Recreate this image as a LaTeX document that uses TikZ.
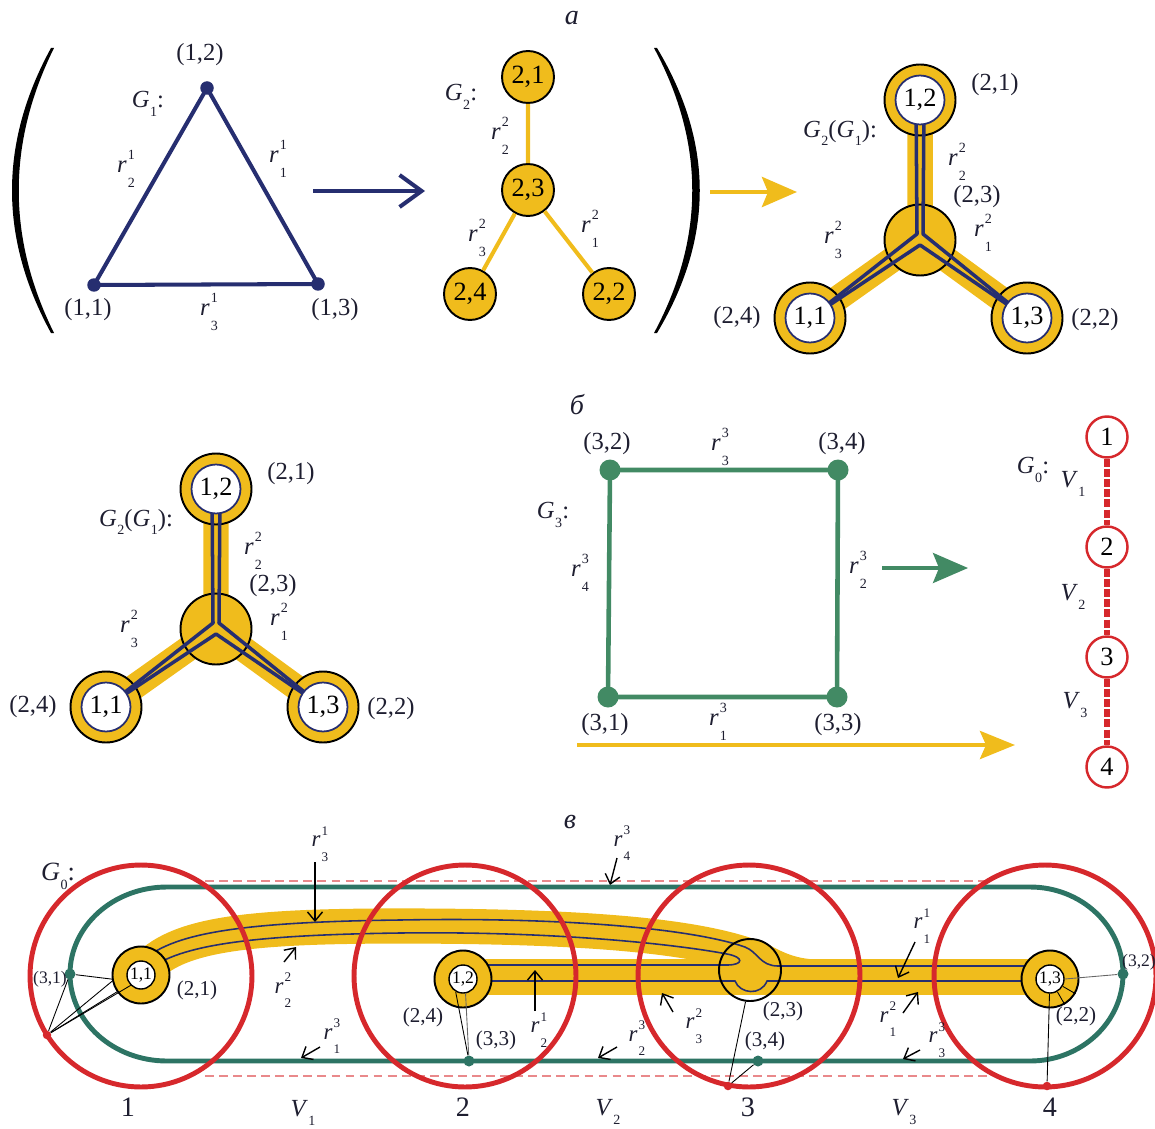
\documentclass[tikz,border=0pt]{standalone}
\usepackage{fontspec}
\setmainfont{Liberation Serif}
\usetikzlibrary{arrows.meta}

\definecolor{azul}{RGB}{38,46,112}
\definecolor{oro}{RGB}{240,188,28}
\definecolor{verde}{RGB}{66,138,100}
\definecolor{verdeosc}{RGB}{45,116,100}
\definecolor{rojo}{RGB}{214,40,44}
\definecolor{tinta}{RGB}{30,30,48}

\newcommand\idxfont{\fontsize{8}{8}\selectfont}
\newcommand\rr[2]{\textit{r}\kern.6pt\makebox[0pt][l]{\raisebox{0.5em}{\idxfont #1}}\raisebox{-0.62em}{\idxfont #2}}
\newcommand\Gi[1]{\textit{G}\kern.3pt\raisebox{-0.35em}{\idxfont #1}}
\newcommand\Vi[1]{\textit{V}\kern.3pt\raisebox{-0.35em}{\idxfont #1}}

\tikzset{
  lab/.style={font=\fontsize{14}{16}\selectfont, text=tinta, inner sep=1pt},
  labB/.style={font=\fontsize{12}{14}\selectfont, text=tinta, inner sep=1pt},
  labC/.style={font=\fontsize{10}{12}\selectfont, text=tinta, inner sep=0pt},
  rB/.style={font=\fontsize{13}{14}\selectfont\renewcommand\idxfont{\fontsize{7.5}{8}\selectfont}, text=tinta, inner sep=1pt},
  titulo/.style={font=\fontsize{16}{18}\selectfont\itshape, text=tinta},
  punto/.style={circle, fill=#1, inner sep=0pt},
  nodoY/.style={circle, draw=black, line width=1.1pt, fill=oro, minimum size=1.04cm, inner sep=0pt, font=\fontsize{15}{17}\selectfont},
  banda/.style={oro, line width=14.5pt},
  hub/.style={circle, draw=black, line width=1.1pt, fill=oro, minimum size=1.42cm},
  anillo/.style={circle, draw=black, line width=1.1pt, fill=oro, minimum size=1.42cm},
  nucleo/.style={circle, draw=azul, line width=1pt, fill=white, minimum size=0.98cm, inner sep=0pt, font=\fontsize{15}{17}\selectfont},
  hilo/.style={azul, line width=2pt, line join=round},
  anilloB/.style={circle, draw=black, line width=1.1pt, fill=oro, minimum size=1.14cm},
  nucleoB/.style={circle, draw=black, line width=0.8pt, fill=white, minimum size=0.56cm, inner sep=0pt, font=\fontsize{10}{11}\selectfont},
  hubB/.style={circle, draw=black, line width=1.1pt, minimum size=1.24cm},
  bandaB/.style={oro, line width=20pt},
  hiloB/.style={azul, line width=0.9pt},
  zona/.style={circle, draw=rojo, line width=2.8pt, minimum size=4.44cm},
  fino/.style={black, line width=0.5pt},
  ptr/.style={black, line width=0.8pt, -{Straight Barb[length=1.8mm,width=3mm]}},
  nodoR/.style={circle, draw=rojo, line width=1.4pt, fill=white, minimum size=0.82cm, inner sep=0pt, font=\fontsize{15}{17}\selectfont},
  rojodash/.style={rojo, line width=3pt, dash pattern=on 4.5pt off 1.3pt},
  pics/grafoGG/.style={code={
    % bandas amarillas
    \coordinate (-c) at (0,0);
    \coordinate (-t) at (0,-140);
    \coordinate (-l) at (-110,78);
    \coordinate (-r) at (107,78);
    \draw[banda] (-c) -- (-t) (-c) -- (-l) (-c) -- (-r);
    \node[hub] (-hc) at (-c) {};
    \foreach \p in {t,l,r} \node[anillo] (-h\p) at (-\p) {};
    % aristas de G1
    \draw[hilo] ([shift={(-4,0)}]-t) -- ([shift={(-3,-6)}]-c) -- (-l);
    \draw[hilo] ([shift={(4,0)}]-t) -- ([shift={(3,-6)}]-c) -- (-r);
    \draw[hilo] (-l) -- ([shift={(0,5)}]-c) -- (-r);
    \foreach \p/\s in {t/{1,2},l/{1,1},r/{1,3}} \node[nucleo] (-i\p) at (-\p) {\s};
    % etiquetas
    \node[lab] (-e21) at (75,-155) {(2,1)};
    \node[lab] (-eG) at (-80,-107) {\Gi{2}(\Gi{1}):};
    \node[lab] (-er22) at (37,-78) {\rr{2}{2}};
    \node[lab] (-e23) at (57,-43) {(2,3)};
    \node[lab] (-er23) at (-87,0) {\rr{2}{3}};
    \node[lab] (-er21) at (63,-7) {\rr{2}{1}};
    \node[lab] (-e24) at (-183,78) {(2,4)};
    \node[lab] (-e22) at (175,80) {(2,2)};
  }}
}

\begin{document}
\begin{tikzpicture}[x=0.02cm, y=-0.02cm]
  \useasboundingbox (0,0) rectangle (1155,1128);

  % ---------- a ----------
  \node[titulo] (ta) at (572,18) {а};
  % parentesis
  \fill (51,48) .. controls (-1,143) and (-1,238) .. (51,333) -- (54,333) .. controls (7,238) and (7,143) .. (54,48) -- cycle;
  \fill (657,48) .. controls (714,143) and (714,238) .. (657,333) -- (654,333) .. controls (705,238) and (705,143) .. (654,48) -- cycle;

  % G1
  \node[punto=azul, minimum size=0.27cm] (v12) at (207,88) {};
  \node[punto=azul, minimum size=0.27cm] (v11) at (94,285) {};
  \node[punto=azul, minimum size=0.27cm] (v13) at (318,284) {};
  \draw[azul, line width=2.3pt, line join=round] (v11.center) -- (v12.center) -- (v13.center) -- cycle;
  \node[lab] (l12) at (200,55) {(1,2)};
  \node[lab] (l11) at (88,310) {(1,1)};
  \node[lab] (l13) at (335,310) {(1,3)};
  \node[lab] (lG1) at (148,104) {\Gi{1}:};
  \node[lab] (lr12) at (126,169) {\rr{1}{2}};
  \node[lab] (lr11) at (278,159) {\rr{1}{1}};
  \node[lab] (lr13) at (209,312) {\rr{1}{3}};

  \coordinate (fa1) at (313,191);
  \coordinate (fa2) at (425,191);
  \draw[azul, line width=2.3pt, -{Straight Barb[length=4.4mm,width=6.4mm]}] (fa1) -- (fa2);

  % G2
  \node[nodoY] (w21) at (528,77) {2,1};
  \node[nodoY] (w23) at (528,190) {2,3};
  \node[nodoY] (w24) at (470,294) {2,4};
  \node[nodoY] (w22) at (609,294) {2,2};
  \draw[oro, line width=2.3pt] (w21) -- (w23) (w23) -- (w24) (w23) -- (w22);
  \node[lab] (lG2) at (461,97) {\Gi{2}:};
  \node[lab] (lr22) at (500,136) {\rr{2}{2}};
  \node[lab] (lr23) at (477,238) {\rr{2}{3}};
  \node[lab] (lr21) at (590,229) {\rr{2}{1}};

  \coordinate (fb1) at (710,192);
  \coordinate (fb2) at (797,192);
  \draw[oro, line width=2.6pt, -{Stealth[length=7mm,width=6mm,inset=1.2mm]}] (fb1) -- (fb2);

  \pic (A) at (920,240) {grafoGG};

  % ---------- b ----------
  \node[titulo] (tb) at (577,405) {б};
  \pic (B) at (216,629) {grafoGG};

  % G3
  \node[punto=verde, minimum size=0.42cm] (s32) at (610,470) {};
  \node[punto=verde, minimum size=0.42cm] (s34) at (838,470) {};
  \node[punto=verde, minimum size=0.42cm] (s31) at (608,697) {};
  \node[punto=verde, minimum size=0.42cm] (s33) at (837,697) {};
  \draw[verde, line width=2.6pt, line join=round] (s31.center) -- (s32.center) -- (s34.center) -- (s33.center) -- cycle;
  \node[lab] (m32) at (607,444) {(3,2)};
  \node[lab] (m34) at (842,444) {(3,4)};
  \node[lab] (m31) at (605,725) {(3,1)};
  \node[lab] (m33) at (838,725) {(3,3)};
  \node[lab] (mG3) at (553,515) {\Gi{3}:};
  \node[lab] (mr33) at (720,447) {\rr{3}{3}};
  \node[lab] (mr34) at (580,573) {\rr{3}{4}};
  \node[lab] (mr32) at (858,570) {\rr{3}{2}};
  \node[lab] (mr31) at (718,722) {\rr{3}{1}};

  \coordinate (fc1) at (882,568);
  \coordinate (fc2) at (968,568);
  \draw[verde, line width=2pt, -{Stealth[length=7mm,width=6mm,inset=1.2mm]}] (fc1) -- (fc2);
  \coordinate (fd1) at (577,745);
  \coordinate (fd2) at (1015,745);
  \draw[oro, line width=2.4pt, -{Stealth[length=7mm,width=5.6mm,inset=1.2mm]}] (fd1) -- (fd2);

  % G0 vertical
  \foreach \k/\y in {1/437,2/547,3/657,4/767}
    \node[nodoR] (q\k) at (1107,\y) {\k};
  \draw[rojodash] (q1) -- (q2) (q2) -- (q3) (q3) -- (q4);
  \node[lab] (qG0) at (1033,470) {\Gi{0}:};
  \node[lab] (qV1) at (1073,484) {\Vi{1}};
  \node[lab] (qV2) at (1073,597) {\Vi{2}};
  \node[lab] (qV3) at (1075,705) {\Vi{3}};

  % ---------- v ----------
  \node[titulo] (tv) at (570,822) {в};
  \node[lab, font=\fontsize{15}{17}\selectfont] (nG0) at (58,876) {\Gi{0}:};

  % contorno G3 y franjas
  \draw[verdeosc, line width=2.8pt] (167,887) -- (1030,887)
    arc[start angle=-90, end angle=90, x radius=93, y radius=87] -- (167,1061)
    arc[start angle=90, end angle=270, x radius=97, y radius=87] -- cycle;
  \draw[rojo!55, line width=0.6pt, dash pattern=on 5pt off 3pt] (205,881) -- (992,881) (205,1076) -- (992,1076);

  % bandas G2
  \draw[bandaB] (141,975) .. controls (170,935) and (240,926) .. (400,926)
    .. controls (580,926) and (700,935) .. (760,960) .. controls (775,968) and (790,976) .. (815,977);
  \draw[bandaB] (463,977) -- (1050,977);

  % aristas G1
  \draw[hiloB] (141,962) .. controls (170,935) and (230,922) .. (400,920)
    .. controls (560,917) and (690,928) .. (745,947) .. controls (758,952) and (760,966) .. (778,966) -- (1050,966);
  \draw[hiloB] (148,970) .. controls (180,945) and (250,935) .. (400,933)
    .. controls (560,931) and (680,945) .. (727,954) .. controls (744,957) and (744,965) .. (727,965) -- (463,965);
  \draw[hiloB] (463,981) -- (735,981) .. controls (740,994) and (761,996) .. (767,981) -- (1050,981);

  % vertices de G0
  \foreach \k/\x in {1/141,2/465,3/749,4/1045}
    \node[zona] (z\k) at (\x,976) {};

  % vertices de G2(G1)
  \node[anilloB] (b11) at (141,975) {};
  \node[nucleoB] (b11i) at (141,975) {1,1};
  \node[anilloB] (b12) at (463,979) {};
  \node[nucleoB] (b12i) at (463,979) {1,2};
  \node[anilloB] (b13) at (1050,979) {};
  \node[nucleoB] (b13i) at (1050,979) {1,3};
  \node[hubB] (b23) at (750,970) {};

  % vertices de G3 y G0
  \node[punto=verdeosc, minimum size=0.22cm] (g31) at (70,974) {};
  \node[punto=verdeosc, minimum size=0.22cm] (g32) at (1123,974) {};
  \node[punto=verdeosc, minimum size=0.22cm] (g33) at (469,1061) {};
  \node[punto=verdeosc, minimum size=0.22cm] (g34) at (758,1061) {};
  \node[punto=rojo, minimum size=0.17cm] (rd1) at (47,1035) {};
  \node[punto=rojo, minimum size=0.17cm] (rd3) at (728,1086) {};
  \node[punto=rojo, minimum size=0.17cm] (rd4) at (1047,1086) {};

  % lineas finas
  \draw[fino] (g31) -- (b11.188);
  \draw[fino] (rd1) -- (g31);
  \draw[fino] (rd1) -- (b11.192);
  \draw[fino] (rd1) -- (b11i.225);
  \draw[fino] (rd1) -- (b11.215);
  \draw[fino] (g33) -- (b12i.240);
  \draw[fino, black!60] (g33) -- (b12i.280);
  \draw[fino] (rd3) -- (b23.262);
  \draw[fino] (rd3) -- (g34);
  \draw[fino, black!60] (g32) -- (b13i.0);
  \draw[fino] (rd4) -- (b13i.268);
  \draw[fino] (b13i.330) -- (b13.330);
  \draw[fino] (b13i.300) -- (b13.300);

  % flechas de aristas
  \foreach \a/\b/\tx/\ty/\hx/\hy in {1/3/315/862/315/922, 2/2/284/962/296/947, 3/1/320/1047/301/1058,
      3/4/617/858/610/885, 1/2/535/1011/535/970, 2/3/673/1012/662/993, 3/2/617/1047/598/1058,
      1/1/915/942/898/978, 2/1/903/1013/918/992, 3/3/920/1050/903/1059} {
    \coordinate (pt\a\b) at (\tx,\ty);
    \coordinate (ph\a\b) at (\hx,\hy);
    \draw[ptr] (pt\a\b) -- (ph\a\b);
  }
  \foreach \a/\b/\x/\y in {1/3/320/844, 2/2/283/990, 3/1/332/1036, 3/4/622/843, 1/2/539/1030,
      2/3/694/1026, 3/2/637/1038, 1/1/922/926, 2/1/888/1019, 3/3/937/1040}
    \node[rB] (rb\a\b) at (\x,\y) {\rr{\a}{\b}};

  % etiquetas de vertices
  \node[labC] (n31) at (50,979) {(3,1)};
  \node[labB] (n21) at (197,990) {(2,1)};
  \node[labB] (n24) at (423,1017) {(2,4)};
  \node[labB] (n33) at (496,1040) {(3,3)};
  \node[labB] (n23) at (783,1011) {(2,3)};
  \node[labB] (n34) at (765,1041) {(3,4)};
  \node[labB] (n22) at (1076,1016) {(2,2)};
  \node[labC] (n32) at (1139,962) {(3,2)};

  \foreach \k/\x in {1/128,2/463,3/748,4/1050}
    \node[lab, font=\fontsize{16}{18}\selectfont] (d\k) at (\x,1107) {\k};
  \node[lab] (dV1) at (303,1113) {\Vi{1}};
  \node[lab] (dV2) at (608,1112) {\Vi{2}};
  \node[lab] (dV3) at (904,1112) {\Vi{3}};
\end{tikzpicture}
\end{document}
